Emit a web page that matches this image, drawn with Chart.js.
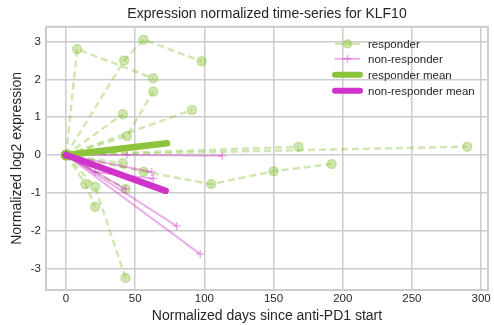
<!DOCTYPE html>
<html>
<head>
<meta charset="utf-8">
<script src="https://cdn.jsdelivr.net/npm/chart.js@4.4.1/dist/chart.umd.min.js"></script>
<style>
    html, body { margin: 0; padding: 0; background: #fff; }
    #wrap { width: 494px; height: 325px; }
</style>
</head>
<body>
<div id="wrap"><canvas id="klfChart" width="494" height="325"></canvas></div>
<script>
// KLF10 per-patient trajectories (days since anti-PD1 start, normalized log2 expression)
const responderDays = [
    [0, 8, 63],
    [0, 42, 56, 98],
    [0, 44, 63],
    [0, 41],
    [0, 91],
    [0, 168],
    [0, 290],
    [0, 56, 105, 150, 192],
    [0, 41],
    [0, 21, 43],
    [0, 14, 21],
    [0, 43]
];
const responderExpr = [
    [0, 2.8, 2.03],
    [0, 2.5, 3.05, 2.48],
    [0, 0.5, 1.68],
    [0, 1.08],
    [0, 1.19],
    [0, 0.22],
    [0, 0.22],
    [0, -0.44, -0.77, -0.43, -0.24],
    [0, -0.22],
    [0, -0.84, -3.25],
    [0, -0.77, -1.37],
    [0, -0.9]
];
const nonResponderDays = [
    [0, 44, 113],
    [0, 80],
    [0, 97],
    [0, 21, 63],
    [0, 43],
    [0, 62]
];
const nonResponderExpr = [
    [0, 0, -0.02],
    [0, -1.88],
    [0, -2.62],
    [0, -0.45, -0.62],
    [0, -0.9],
    [0, -0.45]
];
const responderMeanDays = [0, 73];
const responderMeanExpr = [0, 0.31];
const nonResponderMeanDays = [0, 72];
const nonResponderMeanExpr = [0, -0.95];

const xTicks = [0, 50, 100, 150, 200, 250, 300];
const yTicks = [-3, -2, -1, 0, 1, 2, 3];
const legendLabels = ['responder', 'non-responder', 'responder mean', 'non-responder mean'];

const GREEN = '#8cc43c';
const GREEN_FADED = 'rgba(140, 196, 60, 0.4)';
const MAGENTA = '#cf33c9';
const MAGENTA_FADED = 'rgba(207, 51, 201, 0.4)';
const GRID = '#cccccc';
const FONT = '"Liberation Sans", Arial, sans-serif';

function toPoints(days, expr) {
    return days.map((d, i) => ({ x: d, y: expr[i] }));
}

const datasets = [];

datasets.push({
    label: legendLabels[3],
    data: toPoints(nonResponderMeanDays, nonResponderMeanExpr),
    borderColor: MAGENTA,
    borderWidth: 6.5,
    borderCapStyle: 'round',
    pointRadius: 0,
    order: 0
});
datasets.push({
    label: legendLabels[2],
    data: toPoints(responderMeanDays, responderMeanExpr),
    borderColor: GREEN,
    borderWidth: 6.5,
    borderCapStyle: 'round',
    pointRadius: 0,
    order: 0
});

nonResponderDays.forEach((days, i) => {
    datasets.push({
        label: legendLabels[1],
        data: toPoints(days, nonResponderExpr[i]),
        borderColor: MAGENTA_FADED,
        borderWidth: 2,
        pointStyle: 'cross',
        pointRadius: 4,
        pointBorderWidth: 1.5,
        pointBorderColor: MAGENTA_FADED,
        order: 1
    });
});

responderDays.forEach((days, i) => {
    datasets.push({
        label: legendLabels[0],
        data: toPoints(days, responderExpr[i]),
        borderColor: GREEN_FADED,
        borderWidth: 2.5,
        borderDash: [7, 4],
        pointStyle: 'circle',
        pointRadius: 4.5,
        pointBorderWidth: 1.5,
        pointBackgroundColor: GREEN_FADED,
        pointBorderColor: GREEN_FADED,
        order: 2
    });
});

// grey frame around the plot area
const frame = {
    id: 'frame',
    beforeDatasetsDraw(chart) {
        const a = chart.chartArea, ctx = chart.ctx;
        ctx.save();
        ctx.strokeStyle = GRID;
        ctx.lineWidth = 2;
        ctx.strokeRect(a.left, a.top, a.right - a.left, a.bottom - a.top);
        ctx.restore();
    }
};

// legend in the upper right, line sample with marker like the series
const insetLegend = {
    id: 'insetLegend',
    afterDraw(chart) {
        const a = chart.chartArea, ctx = chart.ctx;
        const x0 = a.right - 153, x1 = a.right - 128, tx = a.right - 120;
        const rows = [a.top + 17, a.top + 32, a.top + 48, a.top + 64];
        ctx.save();
        ctx.font = '11.5px ' + FONT;
        ctx.fillStyle = '#262626';
        ctx.textBaseline = 'middle';
        rows.forEach((y, i) => {
            ctx.beginPath();
            ctx.lineCap = i >= 2 ? 'round' : 'butt';
            if (i === 0) { ctx.strokeStyle = GREEN_FADED; ctx.lineWidth = 2.5; }
            if (i === 1) { ctx.strokeStyle = MAGENTA_FADED; ctx.lineWidth = 2; }
            if (i === 2) { ctx.strokeStyle = GREEN; ctx.lineWidth = 6; }
            if (i === 3) { ctx.strokeStyle = MAGENTA; ctx.lineWidth = 6; }
            ctx.moveTo(x0, y);
            ctx.lineTo(x1, y);
            ctx.stroke();
            const cx = (x0 + x1) / 2;
            if (i === 0) {
                ctx.beginPath();
                ctx.arc(cx, y, 4, 0, Math.PI * 2);
                ctx.fillStyle = GREEN_FADED;
                ctx.fill();
                ctx.lineWidth = 1.5;
                ctx.stroke();
            }
            if (i === 1) {
                ctx.beginPath();
                ctx.lineWidth = 1.5;
                ctx.moveTo(cx - 4, y); ctx.lineTo(cx + 4, y);
                ctx.moveTo(cx, y - 4); ctx.lineTo(cx, y + 4);
                ctx.stroke();
            }
            ctx.fillStyle = '#262626';
            ctx.fillText(legendLabels[i], tx, y + 1);
        });
        ctx.restore();
    }
};

new Chart(document.getElementById('klfChart'), {
    type: 'line',
    data: { datasets: datasets },
    options: {
        responsive: false,
        animation: false,
        events: [],
        layout: { padding: { left: 0, right: 4, top: 0, bottom: 0 } },
        plugins: {
            legend: { display: false },
            tooltip: { enabled: false },
            title: {
                display: true,
                fullSize: false,
                text: 'Expression normalized time-series for KLF10',
                color: '#262626',
                font: { family: FONT, size: 14, weight: 'normal' },
                padding: { top: 6, bottom: 4 }
            }
        },
        scales: {
            x: {
                type: 'linear',
                min: -14.5,
                max: 305,
                afterBuildTicks: s => { s.ticks = xTicks.map(v => ({ value: v })); },
                afterFit: s => { s.height = 35; },
                ticks: { color: '#262626', font: { family: FONT, size: 11.5 }, padding: 2, maxRotation: 0 },
                grid: { color: GRID, lineWidth: 1.5, drawTicks: false },
                border: { display: false },
                title: {
                    display: true,
                    text: 'Normalized days since anti-PD1 start',
                    color: '#262626',
                    font: { family: FONT, size: 14 },
                    padding: { top: 0, bottom: 0 }
                }
            },
            y: {
                type: 'linear',
                min: -3.57,
                max: 3.39,
                afterBuildTicks: s => { s.ticks = yTicks.map(v => ({ value: v })); },
                afterFit: s => { s.width = 46; },
                ticks: { color: '#262626', font: { family: FONT, size: 11.5 }, padding: 5 },
                grid: { color: GRID, lineWidth: 1.5, drawTicks: false },
                border: { display: false },
                title: {
                    display: true,
                    text: 'Normalized log2 expression',
                    color: '#262626',
                    font: { family: FONT, size: 14 },
                    padding: { top: 9, bottom: 0 }
                }
            }
        }
    },
    plugins: [frame, insetLegend]
});
</script>
</body>
</html>
